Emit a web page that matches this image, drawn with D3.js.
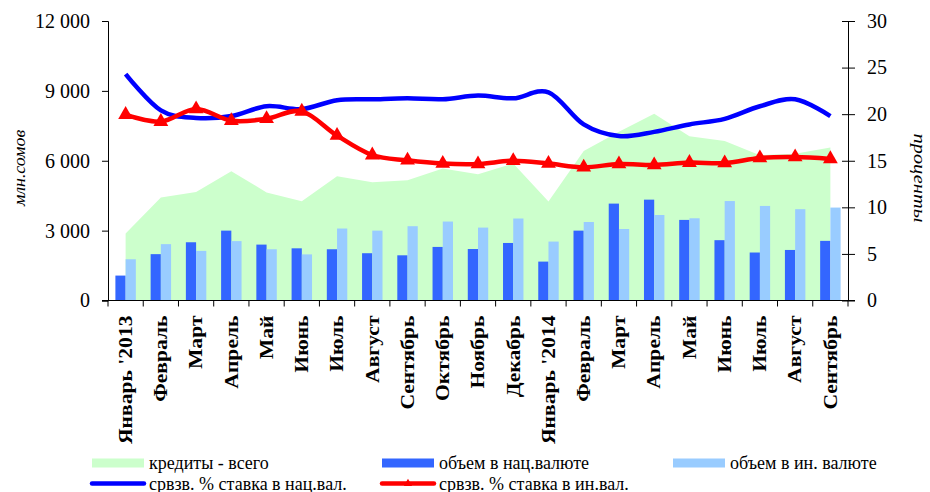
<!DOCTYPE html>
<html>
<head>
<meta charset="utf-8">
<script src="https://cdn.jsdelivr.net/npm/d3@7"></script>
<style>
  body { margin: 0; background: #fff; }
  #chart { width: 930px; height: 492px; }
  text { font-family: "Liberation Serif", "Times New Roman", serif; fill: #000; }
  .axis path, .axis line { stroke: #000; }
  .xLabel { font-weight: bold; font-size: 18px; }
  .tickText { font-size: 20px; font-family: "Liberation Serif", serif; }
  .axisTitle { font-style: italic; font-size: 17px; }
  .legendText { font-size: 18px; }
</style>
</head>
<body>
<div id="chart"></div>
<script>
const months = ["Январь '2013", 'Февраль', 'Март', 'Апрель', 'Май', 'Июнь', 'Июль', 'Август',
  'Сентябрь', 'Октябрь', 'Ноябрь', 'Декабрь', "Январь '2014", 'Февраль', 'Март', 'Апрель',
  'Май', 'Июнь', 'Июль', 'Август', 'Сентябрь'];
// млн. сомов
const totalCredits = [2880, 4420, 4660, 5550, 4640, 4260, 5330, 5080, 5160, 5670, 5420, 5880,
  4250, 6420, 7250, 8020, 7050, 6850, 6240, 6300, 6570];
const natVolume = [1070, 1990, 2500, 3000, 2400, 2240, 2200, 2030, 1940, 2300, 2210, 2470,
  1670, 3000, 4160, 4330, 3460, 2590, 2060, 2170, 2560];
const forVolume = [1770, 2420, 2130, 2550, 2200, 1980, 3090, 3000, 3190, 3390, 3130, 3520,
  2530, 3370, 3070, 3670, 3530, 4270, 4060, 3920, 3990];
// проценты
const natRate = [24.3, 20.4, 19.6, 19.8, 20.85, 20.55, 21.5, 21.6, 21.7, 21.6, 22.0, 21.7,
  22.35, 18.9, 17.65, 18.1, 18.9, 19.5, 20.85, 21.6, 19.8];
const forRate = [19.95, 19.2, 20.55, 19.3, 19.5, 20.3, 17.7, 15.6, 15.05, 14.7, 14.65, 15.0,
  14.7, 14.3, 14.65, 14.55, 14.8, 14.75, 15.3, 15.4, 15.2];
const leftTicks = [0, 3000, 6000, 9000, 12000];
const rightTicks = [0, 5, 10, 15, 20, 25, 30];
const legendItems = [
  {label: 'кредиты - всего', type: 'rect', color: '#ccffcc', x: 92, y: 463},
  {label: 'объем в нац.валюте', type: 'rect', color: '#3366ff', x: 382, y: 463},
  {label: 'объем в ин. валюте', type: 'rect', color: '#99ccff', x: 673, y: 463},
  {label: 'срвзв. % ставка в нац.вал.', type: 'line', color: '#0000ff', x: 92, y: 483.5},
  {label: 'срвзв. % ставка в ин.вал.', type: 'marker', color: '#ff0000', x: 382, y: 483.5}
];

function renderChart () {
  const width = 930;
  const height = 492;
  const left = 108;
  const right = 848;
  const top = 21;
  const bottom = 300.5;

  const svg = d3.select('#chart').append('svg')
    .attr('width', width)
    .attr('height', height);

  const x = d3.scaleBand()
    .domain(d3.range(months.length))
    .range([left, right])
    .padding(0);
  const center = i => x(i) + x.bandwidth() / 2;
  const barWidth = x.bandwidth() * 0.29;

  const yLeft = d3.scaleLinear().domain([0, 12000]).range([bottom, top]);
  const yRight = d3.scaleLinear().domain([0, 30]).range([bottom, top]);

  // green area - total credits
  const area = d3.area()
    .x((d, i) => center(i))
    .y0(yLeft(0))
    .y1(d => yLeft(d));
  svg.append('path')
    .datum(totalCredits)
    .attr('fill', '#ccffcc')
    .attr('d', area);

  // bars
  const drawBars = (values, color, offset, cls) => {
    svg.selectAll('.' + cls)
      .data(values)
      .enter()
      .append('rect')
      .attr('class', cls)
      .attr('x', (d, i) => center(i) + offset)
      .attr('y', d => yLeft(d))
      .attr('width', barWidth)
      .attr('height', d => yLeft(0) - yLeft(d))
      .attr('fill', color);
  };
  drawBars(natVolume, '#3366ff', -barWidth, 'natBar');
  drawBars(forVolume, '#99ccff', 0, 'forBar');

  // axes
  const fmt = d => d3.format(',')(d).replace(/,/g, ' ');
  const leftAxis = svg.append('g')
    .attr('class', 'axis')
    .attr('transform', `translate(${left},0)`)
    .call(d3.axisLeft(yLeft).tickValues(leftTicks).tickFormat(fmt).tickSize(6).tickPadding(12));
  leftAxis.selectAll('text').attr('class', 'tickText');
  leftAxis.attr('font-family', null).attr('font-size', null);

  const rightAxis = svg.append('g')
    .attr('class', 'axis')
    .attr('transform', `translate(${right},0)`)
    .call(d3.axisRight(yRight).tickValues(rightTicks).tickSizeInner(7).tickSizeOuter(0).tickPadding(12));
  rightAxis.selectAll('.tick line').attr('x1', -6);
  rightAxis.selectAll('text').attr('class', 'tickText');
  rightAxis.attr('font-family', null).attr('font-size', null);

  const xAxis = svg.append('g')
    .attr('class', 'axis')
    .attr('transform', `translate(0,${bottom})`);
  xAxis.append('line')
    .attr('x1', left - 6).attr('x2', right + 7)
    .attr('y1', 0).attr('y2', 0);
  xAxis.selectAll('.xTick')
    .data(d3.range(months.length + 1))
    .enter()
    .append('line')
    .attr('class', 'xTick')
    .attr('x1', i => left + i * x.bandwidth())
    .attr('x2', i => left + i * x.bandwidth())
    .attr('y1', 0).attr('y2', 6);
  // labels look stretched along their length in the original
  xAxis.selectAll('.xLabel')
    .data(months)
    .enter()
    .append('text')
    .attr('class', 'xLabel')
    .attr('text-anchor', 'end')
    .attr('dy', '0.35em')
    .attr('transform', (d, i) => `translate(${center(i)},15) rotate(-90) scale(1.2,1)`)
    .text(d => d);

  // rate lines
  const line = d3.line()
    .x((d, i) => center(i))
    .y(d => yRight(d))
    .curve(d3.curveCardinal.tension(0));
  svg.append('path')
    .datum(natRate)
    .attr('fill', 'none')
    .attr('stroke', '#0000ff')
    .attr('stroke-width', 4.5)
    .attr('d', line);
  svg.append('path')
    .datum(forRate)
    .attr('fill', 'none')
    .attr('stroke', '#ff0000')
    .attr('stroke-width', 4.5)
    .attr('d', line);
  svg.selectAll('.forMarker')
    .data(forRate)
    .enter()
    .append('path')
    .attr('class', 'forMarker')
    .attr('d', d3.symbol().type(d3.symbolTriangle).size(95))
    .attr('fill', '#ff0000')
    .attr('transform', (d, i) => `translate(${center(i)},${yRight(d)})`);

  // axis titles
  svg.append('text')
    .attr('class', 'axisTitle')
    .attr('text-anchor', 'middle')
    .attr('transform', 'translate(25,168) rotate(-90) scale(1.05,1)')
    .text('млн.сомов');
  svg.append('text')
    .attr('class', 'axisTitle')
    .attr('text-anchor', 'middle')
    .attr('transform', 'translate(914,178) rotate(90) scale(1.2,1)')
    .text('проценты');

  // legend
  const legend = svg.selectAll('.legendItem')
    .data(legendItems)
    .enter()
    .append('g')
    .attr('class', 'legendItem')
    .attr('transform', d => `translate(${d.x},${d.y})`);
  legend.each(function (d) {
    const g = d3.select(this);
    if (d.type === 'rect') {
      g.append('rect')
        .attr('x', 0).attr('y', -4.5)
        .attr('width', 52).attr('height', 9)
        .attr('fill', d.color);
    } else {
      g.append('line')
        .attr('x1', 0).attr('x2', 52)
        .attr('y1', 0).attr('y2', 0)
        .attr('stroke', d.color)
        .attr('stroke-width', 4.5)
        .attr('stroke-linecap', 'round');
      if (d.type === 'marker') {
        g.append('path')
          .attr('d', d3.symbol().type(d3.symbolTriangle).size(30))
          .attr('fill', d.color)
          .attr('transform', 'translate(26,0)');
      }
    }
    g.append('text')
      .attr('class', 'legendText')
      .attr('x', 57)
      .attr('y', 6)
      .text(d.label);
  });
}
renderChart();
</script>
</body>
</html>
